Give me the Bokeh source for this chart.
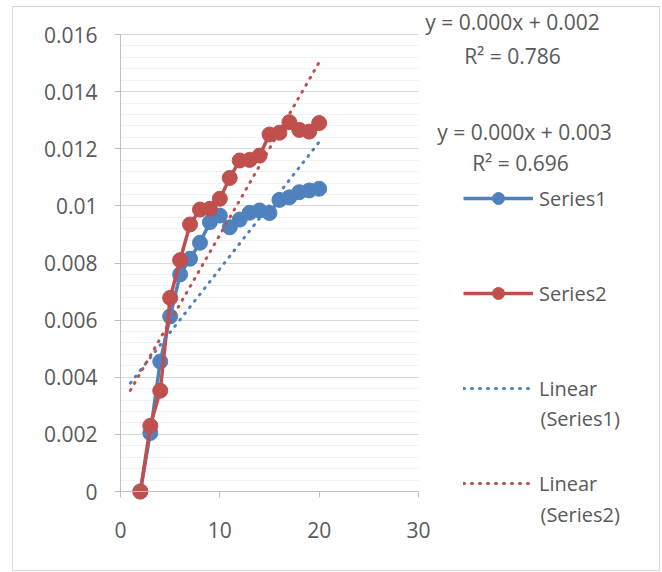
import numpy as np
from bokeh.plotting import figure
from bokeh.models import (Range1d, SingleIntervalTicker, CustomJSTickFormatter,
                          Legend, LegendItem, Label)
from bokeh.embed import file_html
from bokeh.resources import INLINE

# ---- data ----
x_values = [2, 3, 4, 5, 6, 7, 8, 9, 10, 11, 12, 13, 14, 15, 16, 17, 18, 19, 20]
series1 = [0.0, 0.00205, 0.00455, 0.00613, 0.00760, 0.00815, 0.00871, 0.00943,
           0.00966, 0.00925, 0.00952, 0.00976, 0.00984, 0.00975, 0.01021,
           0.01030, 0.01048, 0.01054, 0.01060]
series2 = [0.0, 0.00230, 0.00353, 0.00678, 0.00810, 0.00935, 0.00987, 0.00990,
           0.01025, 0.01098, 0.01159, 0.01161, 0.01176, 0.01250, 0.01256,
           0.01293, 0.01266, 0.01260, 0.01290]
series_names = ["Series1", "Series2"]
trend_names = ["Linear", "Linear"]
trend_sub = ["(Series1)", "(Series2)"]
eq_lines = ["y = 0.000x + 0.002", "R\u00b2 = 0.786", "y = 0.000x + 0.003", "R\u00b2 = 0.696"]
x_axis_max = 30
y_axis_max = 0.016

BLUE = "#4f81bd"
RED = "#c0504d"
TXT = "#595959"
FONT = "Open Sans"

# ---- geometry (pixels) ----
AX_W, AX_H = 298, 457          # size of the 0..30 x 0..0.016 plotting box
FRAME_W, FRAME_H = 646, 563    # whole chart area (axes are placed at x=0 / y=0)
LEFT, ABOVE, BELOW = 107, 484, 79   # frame pixels left of x=0, above / below y=0
px_x = AX_W / x_axis_max
px_y = AX_H / y_axis_max

p = figure(frame_width=FRAME_W, frame_height=FRAME_H,
           output_backend="svg", toolbar_location=None,
           x_range=Range1d(-LEFT / px_x, (FRAME_W - LEFT) / px_x),
           y_range=Range1d(-BELOW / px_y, ABOVE / px_y),
           min_border=0, min_border_left=0, min_border_top=0,
           min_border_right=0, min_border_bottom=0)
p.styles = {"border": "1px solid #d9d9d9", "margin-left": "12px", "margin-top": "6px"}
p.outline_line_color = None
p.background_fill_color = "white"
p.border_fill_color = "white"

# axes
p.xaxis.ticker = SingleIntervalTicker(interval=10)
p.yaxis.ticker = SingleIntervalTicker(interval=0.002, num_minor_ticks=5)
p.yaxis.formatter = CustomJSTickFormatter(code="return String(parseFloat(tick.toFixed(4)))")
p.xaxis.fixed_location = 0
p.yaxis.fixed_location = 0
p.xaxis.bounds = (0, x_axis_max)
p.yaxis.bounds = (0, y_axis_max)
for ax in (p.xaxis, p.yaxis):
    ax.axis_line_color = "#bfbfbf"
    ax.major_tick_line_color = "#bfbfbf"
    ax.minor_tick_line_color = None
    ax.major_tick_in = 0
    ax.major_tick_out = 6
    ax.major_label_text_font = FONT
    ax.major_label_text_font_size = "21px"
    ax.major_label_text_color = TXT
p.xaxis.major_label_standoff = 24
p.yaxis.major_label_standoff = 17

p.xgrid.grid_line_color = None
p.ygrid.ticker = p.yaxis.ticker
p.ygrid.bounds = (0, y_axis_max)
p.ygrid.grid_line_color = "#d9d9d9"
p.ygrid.minor_grid_line_color = "#f2f2f2"
try:
    p.ygrid.cross_bounds = (0, x_axis_max)
except Exception:
    p.ygrid.grid_line_color = None
    p.ygrid.minor_grid_line_color = None
    minor_y = [i * y_axis_max / 40 for i in range(1, 41) if i % 5]
    major_y = [i * y_axis_max / 8 for i in range(1, 9)]
    p.segment(x0=0, x1=x_axis_max, y0=minor_y, y1=minor_y, line_color="#f2f2f2", line_width=1)
    p.segment(x0=0, x1=x_axis_max, y0=major_y, y1=major_y, line_color="#d9d9d9", line_width=1)

# series
items = []
for ys, col, name in [(series1, BLUE, series_names[0]), (series2, RED, series_names[1])]:
    ln = p.line(x_values, ys, line_color=col, line_width=3.5)
    sc = p.scatter(x_values, ys, size=15, fill_color=col, line_color=col)
    items.append(LegendItem(label=name, renderers=[ln, sc]))

# linear trendlines (least squares fit, forecast backward 1 period)
for ys, col, name in [(series1, BLUE, trend_names[0]), (series2, RED, trend_names[1])]:
    slope, icpt = np.polyfit(x_values, ys, 1)
    tx = [x_values[0] - 1, x_values[-1]]
    ty = [slope * v + icpt for v in tx]
    tl = p.line(tx, ty, line_color=col, line_width=3, line_dash="1 7", line_cap="round")
    items.append(LegendItem(label=name, renderers=[tl]))

legend = Legend(items=items, location=(LEFT + 343, 72), padding=0, margin=0,
                border_line_color=None, background_fill_alpha=0,
                glyph_width=70, glyph_height=30, label_height=30, spacing=65,
                label_standoff=6, label_text_font=FONT, label_text_font_size="20px",
                label_text_color=TXT)
p.add_layout(legend)

# second lines of the trendline legend entries
for txt, yy in zip(trend_sub, [152, 56]):
    p.add_layout(Label(x=LEFT + 420, y=yy, x_units="screen", y_units="screen", text=txt,
                       text_font=FONT, text_font_size="20px", text_color=TXT,
                       text_align="left", text_baseline="middle"))

# trendline equations
for txt, xx, yy in zip(eq_lines, [392, 392, 404, 400], [549, 515, 439, 408]):
    p.add_layout(Label(x=LEFT + xx, y=yy, x_units="screen", y_units="screen", text=txt,
                       text_font=FONT, text_font_size="21px", text_color=TXT,
                       text_align="center", text_baseline="middle"))

open("out.html", "w").write(file_html(p, INLINE))
